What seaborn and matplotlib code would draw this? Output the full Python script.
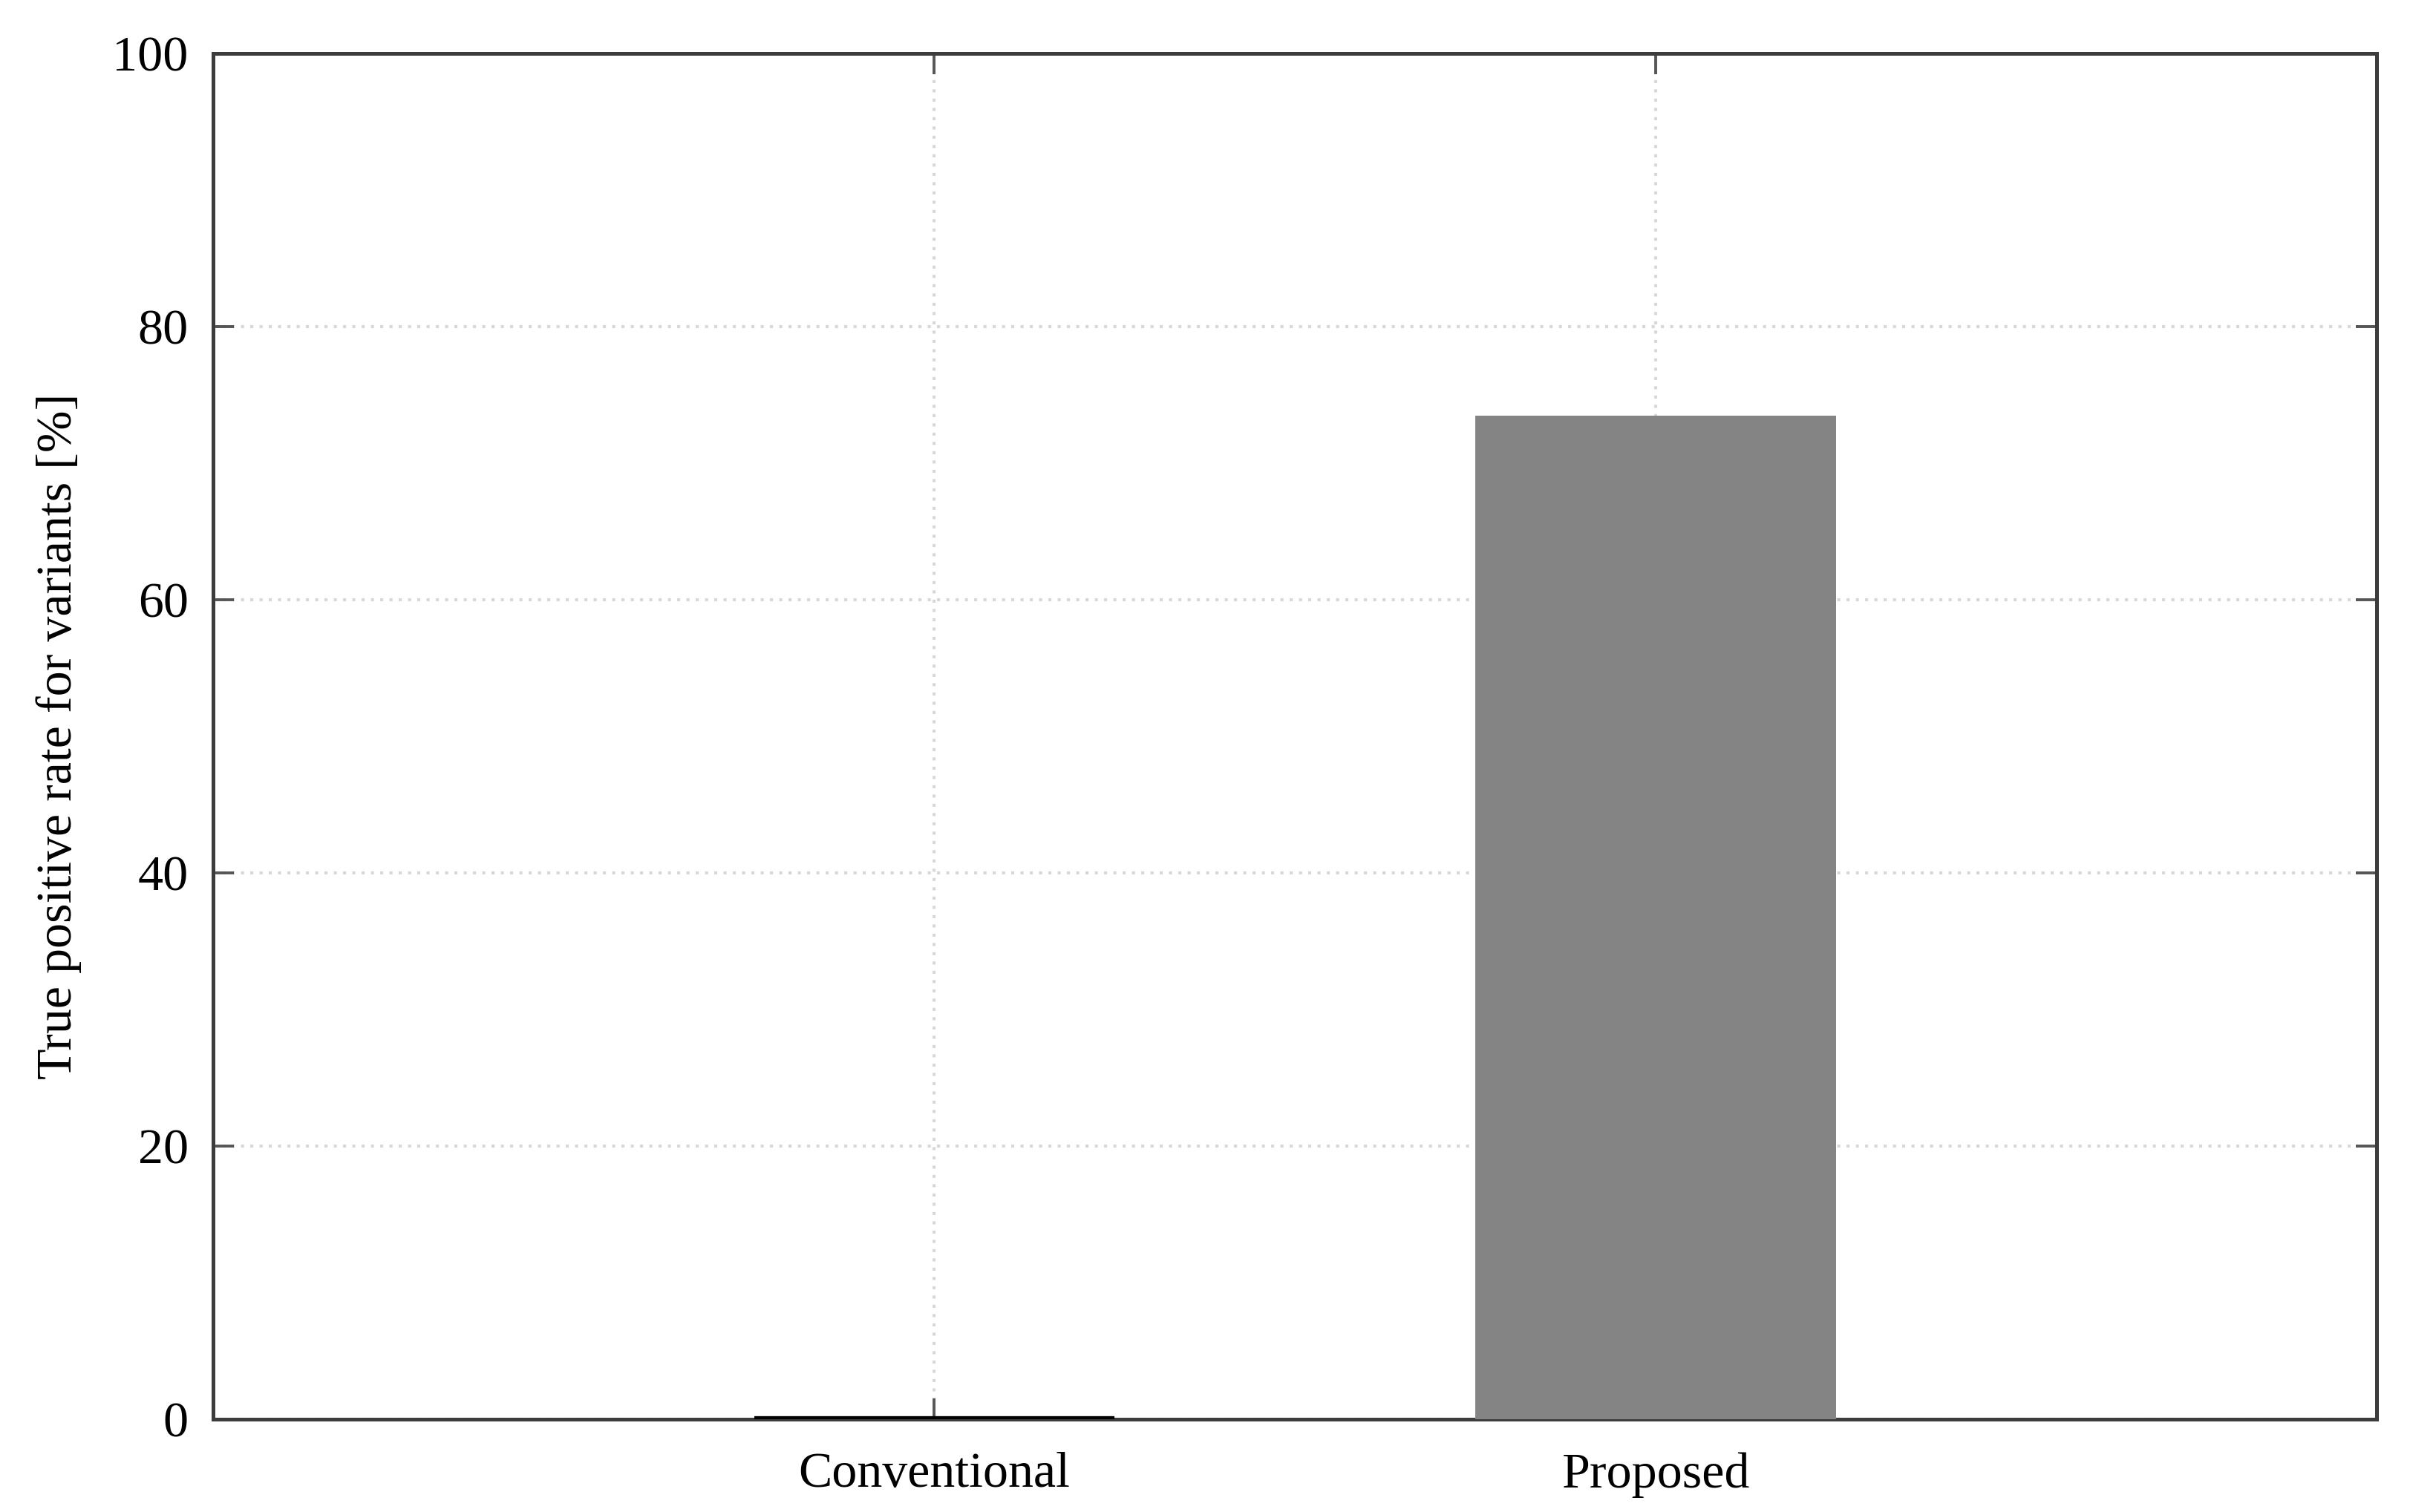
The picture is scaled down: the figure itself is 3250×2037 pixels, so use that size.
import matplotlib
matplotlib.use("Agg")
import matplotlib.pyplot as plt
import pandas as pd
import seaborn as sns

categories = ["Conventional", "Proposed"]
tpr_values = [0.0, 73.5]
bar_colors = ["#000000", "#848484"]
y_ticks = [0, 20, 40, 60, 80, 100]

df = pd.DataFrame({"method": categories, "tpr": tpr_values})

sns.set_theme(style="white")
plt.rcParams["font.family"] = ["Liberation Serif", "DejaVu Serif"]
plt.rcParams["text.color"] = "black"
plt.rcParams["axes.labelcolor"] = "black"
plt.rcParams["xtick.labelcolor"] = "black"
plt.rcParams["ytick.labelcolor"] = "black"

fig = plt.figure(figsize=(32.5, 20.37), dpi=100)
ax = fig.add_axes([287 / 3250, 1 - 1912 / 2037, (3201 - 287) / 3250, (1912 - 72) / 2037])

sns.barplot(data=df, x="method", y="tpr", hue="method", palette=bar_colors,
            width=0.5, legend=False, ax=ax, zorder=3)

# zero-height bar only shows as its outline
for patch, col in zip(ax.patches, bar_colors):
    if patch.get_height() == 0:
        patch.set_edgecolor(col)
        patch.set_linewidth(6)
    else:
        patch.set_edgecolor("none")

ax.set_xlim(-1, 2)
ax.set_ylim(0, 100)
ax.set_yticks(y_ticks)
ax.set_xlabel("")
ax.set_ylabel("True positive rate for variants [%]", fontsize=49, labelpad=30)

ax.grid(True, linestyle=(0, (1, 2)), color="#d8d8d8", linewidth=3, zorder=0)
ax.set_axisbelow(True)

for sp in ax.spines.values():
    sp.set_color("#3c3c3c")
    sp.set_linewidth(3.6)
    sp.set_visible(True)

ax.tick_params(axis="both", direction="in", length=20, width=2.8, color="#555555",
               labelsize=49, top=True, right=True, bottom=True, left=True)
ax.tick_params(axis="y", pad=24)
ax.tick_params(axis="x", pad=32)

fig.savefig("out.png", dpi=100, facecolor="white")
